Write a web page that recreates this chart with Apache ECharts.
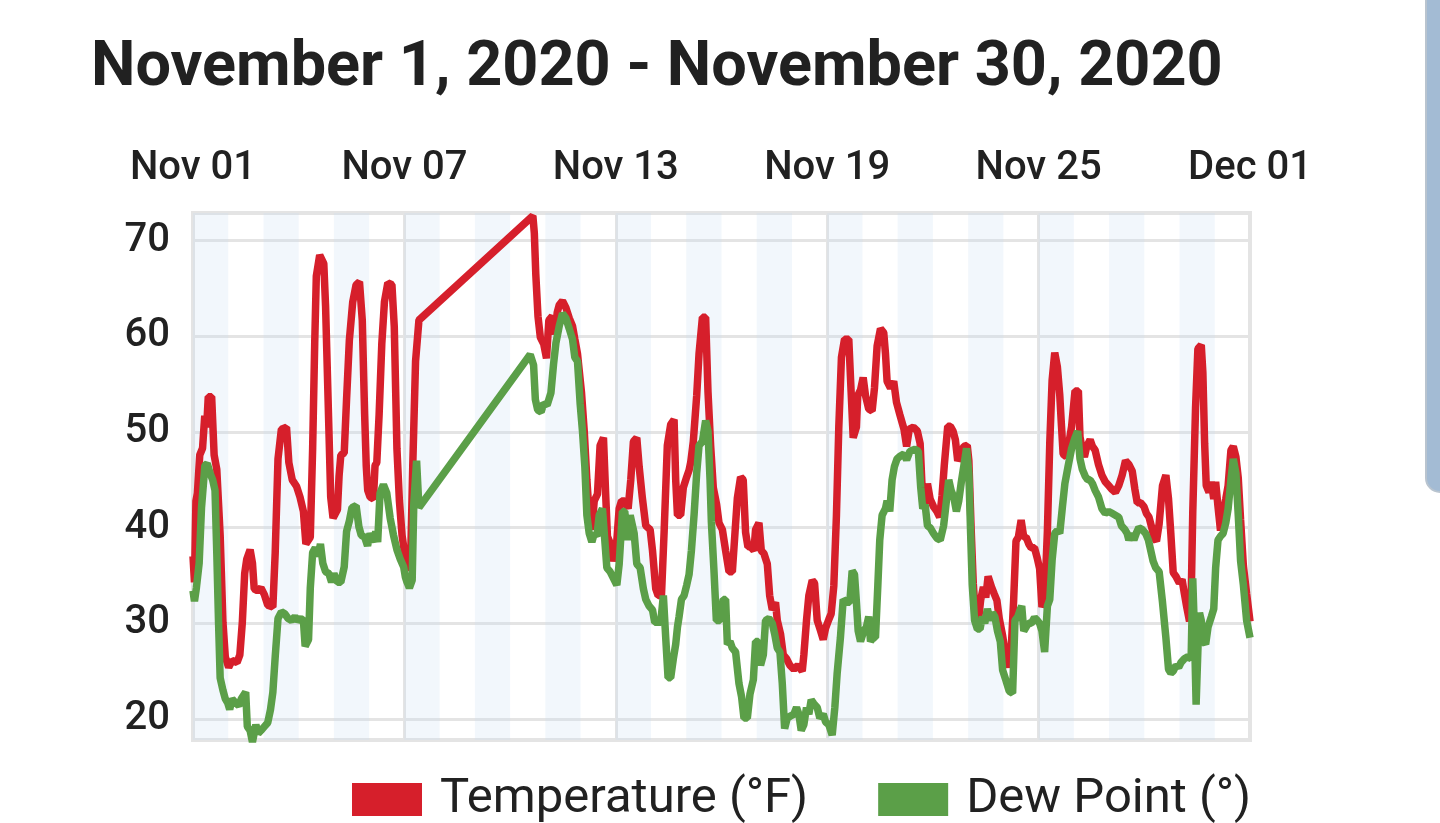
<!DOCTYPE html>
<html>
<head>
<meta charset="utf-8">
<title>November 2020 temperature and dew point</title>
<script src="https://cdn.jsdelivr.net/npm/echarts@6/dist/echarts.min.js"></script>
<style>
  html, body { margin: 0; padding: 0; background: #fff; }
  #chart { width: 1440px; height: 823px; }
</style>
</head>
<body>
<div id="chart"></div>
<script>
// hours since Nov 01 00:00
var tempHours = [0,1,2,3,4.6,6.5,8,9.3,10.4,12.7,14.4,16.2,18.5,20.4,22,24.3,26.6,30,31.9,33.6,35.2,36.6,38.9,40.5,41.7,44,46.3,48.6,50.9,54.4,56,57.9,60.2,63.7,65.3,67.6,70.6,72.9,75.2,76.9,79.9,81.5,82.9,84,86.3,89.1,90.3,92.6,93.8,95.4,98.4,99.5,100.7,103,104.6,106.5,108.8,111.1,113.4,115.3,116.9,118,119,120.6,122.9,124,125.2,126.8,128.6,130.4,132.7,135.5,137.1,138.9,140.6,142.4,144.7,147,148.1,149.7,151.6,153.9,
  231.5,232.5,233.5,235,236.6,238.9,240.8,242.4,244.7,246.6,248.1,249.5,251.7,254,256.3,258.5,260.1,261.9,263,264.6,266.5,268.3,269.9,271.7,273.3,275.5,277.3,279.6,281.2,282.3,284.1,286.4,288.2,290.3,291.9,294.1,296.4,298.2,300,302.3,303.9,306.1,308.4,311.4,313,315.2,316.8,319.1,320.9,323.1,325.4,327.7,328.8,330,332.2,334,336.3,337.9,339,340.8,343.1,344.7,347,349.2,350.8,352.6,354.4,356.7,358.3,360.6,362.8,365.1,367.4,369.2,370.8,373,374.8,376.4,378,379.8,382.1,383.2,385.5,387.1,388.9,391.2,392.8,394.6,396.8,398,400.2,402.1,404.3,406.6,409.3,412,415,416.1,417.9,419.5,421.8,423.4,425.2,427.5,429.3,430.9,433.1,434.7,436.5,438.3,439.9,441.7,443.8,446.7,448.3,449.7,451.9,452.8,454.7,456.5,458.1,460.3,462.6,464.2,466,468.3,470.5,471.7,472.8,475.1,477.3,479.2,481.5,484.3,486.1,487.9,490.7,493.4,495.3,497.1,498.7,500.3,502.1,504.4,506.7,508.6,510.2,511.8,514.1,515.9,517.7,519.3,520.9,523.2,525.1,527.4,528.5,530.1,531.5,533.1,534.7,536.5,538.4,540,541.6,543.9,545.7,547.6,549.2,551.5,553.8,555.4,557.2,559,560.6,562.2,564.1,565.9,567.5,569.3,570.9,573.2,575.1,576.7,578.3,580.1,582,583.6,585.2,587,588.8,590.4,591.6,592.7,595,596.6,598.5,600.8,603.1,604.2,605.8,607.2,608.8,611.1,612.7,614.5,616.8,619.1,621.4,623.7,626,628.3,630.6,632.9,635.2,637.5,639.8,641.6,643.2,645.5,647.8,649.4,651.2,653.1,654.7,656.3,658.1,660.4,662.7,664.5,666.1,667.7,669.6,671.9,673.7,675.3,676.9,678.8,679.9,681,682.9,684.5,686.8,687.9,689.1,690.2,692.1,693.7,695.3,696.6,698.2,699.9,701.7,703.5,705.1,707,708.6,710.4,712,713.6,715.5,717.7,720];
var tempF = [37,34.3,42.8,43.6,47.6,48.3,51.7,50.5,53.7,53.7,47.6,46.1,39.2,30.1,26.5,25.4,26.1,25.9,26.7,30.1,35.2,36.7,37.7,36.3,33.6,33.4,33.7,33,31.9,31.7,37.4,47.2,50.3,50.5,46.8,45,44.3,43.2,41.7,38.3,39,48.3,59.2,66.3,68.5,67.6,63.2,50.1,43.2,41,41.9,45.4,47.6,47.8,53.4,59.6,63.6,65.4,65.7,61.7,51.9,46.5,43.9,43.2,43,46.5,46.8,51.9,59.2,63.6,65.6,65.4,61,48.3,42.8,39.2,36.7,35.9,35.6,46.5,57.4,61.7,
  72.6,70.8,66.5,62.1,59.9,59.2,57.7,61.7,62.1,60.2,62.5,63.3,63.7,63,61.9,61.1,59.7,58.2,58,54.2,50.1,45,41.3,39.8,42.8,43.5,48.6,49.4,43.1,39.1,38.4,36.5,37.6,42,42.8,42.8,42,45,49,49.4,46.4,43.1,40.2,39.8,37.6,33.6,32.9,32.9,39.5,48.6,50.8,51.3,45,41.3,41.3,44.2,45.3,46,46.8,49,53.8,58.2,62,62,54.2,48.6,44.2,42.4,40.5,39.8,37.6,35.4,35.4,39.5,43.1,45.3,45,39.5,38,38,37.6,39.8,40.5,37.6,37.3,36.2,32.9,31.4,32.2,30.3,28.9,26.7,26.3,25.6,25.2,25.6,25,26.7,30.3,32.9,34.5,34.2,30.3,29.2,28.3,29.5,30.4,31,33.9,41.3,50.5,57.8,59.7,59.7,54.2,49.4,50.5,53.8,54.4,55.7,53.8,52.4,52.2,54.6,59,60.8,60.4,58.2,55.3,54.6,55.3,53.1,51.8,50.3,48.5,50.3,50.5,50.1,48.8,42.6,42.6,44.6,43,42.2,41.7,41.1,43.3,46.6,50.6,50.6,50.1,49.2,47,47.7,48.5,48.6,47,39.7,34.2,30.5,29.8,32.4,33.8,32.7,34.9,33.8,33.1,32.4,30.5,28.7,26.5,25.4,26.9,32.4,38.6,39,40.8,39,39,38.3,37.9,37.9,36.8,35.7,31.7,32.4,39.7,48.8,55.4,58.3,56.8,53.9,50.6,47.7,47.4,48.8,50.6,54.3,54.3,49.5,48.1,47.4,48.5,49.2,48.5,48.1,46.6,45.5,44.8,44.4,44,43.7,44.4,45.5,47,46.6,45.9,44,42.6,42.6,42.2,41.5,41.1,40,38.9,38.6,40.4,44.4,45.5,43,39.3,35.3,34.9,34.2,34.6,33.1,31.7,30.2,32.4,41.5,52.5,58.7,59.1,56.2,48.8,44.4,43.7,44.8,43,44.8,42.2,39.7,41.5,43,44.4,48.1,48.5,47.4,45.2,40.8,36,33.1,30.2];

var dewHours = [0,1,2.3,4.2,5.8,8.1,9.7,11.6,13.4,15,16.2,17.4,18.5,20.4,22,23.6,25,26.6,28.9,31.2,32.9,35.9,37,38.9,40.5,42.8,44.4,46.3,48.6,50.9,52.8,54.4,56,57.9,60.2,62.5,64.8,67.1,69.4,71.3,73.4,75.2,76.4,78.7,79.9,81.5,83.3,85.2,86.8,88.4,90.3,92.6,94.4,96,98.4,100.7,103,104.6,106.5,108.3,111.1,113,114.6,117,118.9,120.6,122.9,124.5,125.8,127.4,129.7,132,134.3,136.6,138.9,141.2,143.5,144.7,145.8,147.4,149.3,150.4,152.3,153.9,
  229.7,232,233.2,234.8,237.1,238.9,241.2,243.8,245.6,247.2,249.5,251.7,254,256.3,258.5,260.1,261.9,263.7,265.3,266.9,268.3,269.9,271.7,273.3,275.1,276.7,278.9,280.5,281.9,284.1,286.4,288.7,290.3,292.5,294.1,295.9,297.8,300.5,302.3,304.6,306.8,308.4,310.7,313,314.5,316.8,318.6,320.4,322,323.6,325.4,327.2,328.8,330,331.1,332.7,334.5,336.3,337.9,339.5,341.3,343.1,344.7,347,349.2,350.8,352.2,353.1,354.9,356.5,359,361.2,362.8,364,365.8,367.4,369.6,371.9,373.7,375.3,377.6,379.4,381.7,383.2,385.1,386.6,388.5,390,392.3,394.6,396.2,398,399.8,401.4,403,404.8,407,409.3,411.1,412.7,414.3,416.1,417.9,419.5,421.1,422.9,425.2,427,429.3,430.9,433.1,435.4,437.2,438.8,441,442.9,445.1,447.4,449,450.6,451.9,453.1,454.7,456.9,458.7,460.3,461.5,463.3,464.9,466.5,467.8,469.4,471.7,472.8,474.6,476.2,477.8,479.6,481.9,484.2,486.1,488.4,491.8,494.1,495.7,497.1,498.7,500.3,502.1,504.4,506.7,509,511.3,513.2,514.8,516.4,518.2,520,521.6,523.2,525.1,526.9,528.5,529.7,530.8,532.4,534.3,536.1,537.7,539.3,541.1,543,544.6,546.2,548,549.9,551.5,553.8,556,558.3,559.9,561.8,563.6,564.5,565.9,567.5,569.1,571,573.2,575.1,576.7,578.3,580.1,582,583.6,585.2,587,588.8,590.4,592.1,593.9,596.2,598.5,600.8,602.6,604.2,605.8,607.7,609.5,611.1,612.7,614.5,616.8,619.1,621.4,623.7,626,628.3,630.6,632.4,634.7,636.3,637.5,639.3,640.9,642.5,644.3,646.6,648.9,650.8,652.4,654,655.8,658.1,660.4,662.7,664.5,666.1,667.7,669.6,671.4,673,675.3,677.6,679.9,681,682.2,683.3,684.7,685.6,686.8,688.4,689.8,691.4,693.7,695.3,696.6,698.2,699.9,701.7,703.5,705.1,707,708.6,710.4,712,713.6,715.5,717.7,720];
var dewPoint = [33.4,32.3,33.7,36.3,42.1,46.5,46.7,45.7,45,43.9,37.4,30.1,24.3,23,22.1,21.7,21,22.1,21.7,21.4,22.1,22.8,19.2,18.8,17.6,19.4,18.5,18.8,19.2,19.6,21,22.8,26.5,30.5,31.2,31,30.5,30.3,30.7,30.3,30.5,30.3,27.6,28.3,33.7,37.4,37.9,37,38.3,36.3,35.4,35.2,34.3,35.2,34.3,34.3,35.9,39.6,40.7,42.1,42.3,40.1,39.2,39,38.1,39.4,38.5,39.6,38.5,43.6,44.5,43.6,41,39.2,37.7,36.7,35.9,34.8,34.3,33.7,34.5,42.5,47,42.1,
  58.1,57,53.4,52.3,52.1,53,52.8,54.1,57.1,59.3,61.1,62.4,61.9,60.8,59.7,57.8,57.4,53,50.1,46.4,41.3,39.4,38.5,39.4,39.1,41.3,42,38.7,35.8,35.4,34.7,34,36.2,41.7,41.7,38.7,41.3,39.4,36.2,35.8,33.6,32.5,31.8,31.4,30.1,30.1,30.1,32.9,28.5,24.3,24.3,26.3,27.8,29.6,30.7,32.5,32.9,34,35.1,37.6,41.3,45.7,48.6,49,51.2,50.1,45,40.6,35.4,30.3,30.3,32.5,32.5,27.8,28.1,27.4,27,23.7,22.3,20.1,20.1,22.6,24.1,28.1,28.1,25.6,26.7,30.3,30.5,30,28.9,27.4,27,23.7,19,20.1,20.3,20.5,21.2,20.5,18.8,19.4,21.2,20.5,22,21.6,21.2,20.1,20.5,19.7,19.4,18.3,21.2,24.8,28.5,32.5,32.2,32.2,35.5,35.1,32.2,29.2,28.1,29.2,29.6,30.7,28.1,28.5,28.5,34,38.7,41.3,42,42.8,41.7,45,46.4,47.2,47.5,47.7,47.1,48,48.2,48,44.2,42,42.4,40.2,40,39.4,38.9,38.7,40.2,42.8,45,43.9,43.2,41.7,42.8,44.6,46.5,48.3,45.7,39.4,34,30.3,29.4,29.4,30.7,30,31.5,30.3,31.1,30.7,29.2,28.1,25.1,24,22.9,22.7,30.3,30.7,31.5,31.8,29.2,29.6,30,30,30.6,30.3,30,29.2,27,31.8,32.5,36.6,39.4,39.7,39.4,42,44.6,46.5,48.3,49.4,50.1,47.2,46.1,45.4,45,45,44.6,43.9,43.2,42,41.5,41.7,41.5,41.3,41.1,40.2,39.8,39.4,38.7,39.4,38.7,39.4,40,39.8,39.4,38.7,37.6,36.5,35.8,35.4,32.2,28.5,25.2,24.8,25,25.6,25.4,25.9,26.3,26.5,26.3,34.7,28.9,21.5,28.1,31.1,30.3,28.1,27.8,29.6,30.7,31.5,35.8,38.7,39.1,39.4,40.5,42,45,47.2,45.7,41.3,36.5,34,30.3,28.5];

var xTickLabels = ['Nov 01', 'Nov 07', 'Nov 13', 'Nov 19', 'Nov 25', 'Dec 01'];
var shadedDays = [0, 2, 4, 6, 8, 10, 12, 14, 16, 18, 20, 22, 24, 26, 28];   // Nov 1, 3, 5 ... shaded

var chart = echarts.init(document.getElementById('chart'));

var bands = shadedDays.map(function (d) {
    return [{ xAxis: d * 24 }, { xAxis: (d + 1) * 24 }];
});

function pairs(xs, ys) {
    return xs.map(function (x, i) { return [x, ys[i]]; });
}

var font = 'Roboto, "Noto Sans", sans-serif';

var option = {
    animation: false,
    textStyle: { fontFamily: font },
    title: {
        text: 'November 1, 2020 - November 30, 2020',
        left: 86,
        top: 33,
        textStyle: { fontSize: 63, fontWeight: 'bold', color: '#212121', fontFamily: font }
    },
    legend: {
        left: 347,
        top: 770,
        icon: 'rect',
        itemWidth: 70,
        itemHeight: 33,
        itemGap: 70,
        textStyle: { fontSize: 49, color: '#212121', fontFamily: font, padding: [0, 0, 0, 13] },
        data: ['Temperature (°F)', 'Dew Point (°)']
    },
    grid: {
        left: 193,
        right: 190,
        top: 213,
        bottom: 83,
        show: true,
        borderColor: '#e4e4e4',
        borderWidth: 4,
        backgroundColor: 'transparent'
    },
    xAxis: {
        type: 'value',
        position: 'top',
        min: 0,
        max: 720,
        interval: 144,
        axisLine: { show: false },
        axisTick: { show: false },
        splitLine: { show: true, lineStyle: { color: '#e4e4e4', width: 3 } },
        axisLabel: {
            fontSize: 40,
            fontWeight: 500,
            color: '#212121',
            margin: 24,
            showMinLabel: true,
            showMaxLabel: true,
            formatter: function (v) { return xTickLabels[Math.round(v / 144)]; }
        }
    },
    yAxis: {
        type: 'value',
        min: 17.8,
        max: 72.9,
        splitNumber: 5,
        axisLine: { show: false },
        axisTick: { show: false },
        splitLine: { show: true, lineStyle: { color: '#e4e4e4', width: 3 } },
        axisLabel: {
            fontSize: 40,
            fontWeight: 500,
            color: '#212121',
            margin: 23,
            showMinLabel: false,
            showMaxLabel: false
        }
    },
    series: [
        {
            name: 'Temperature (°F)',
            type: 'line',
            showSymbol: false,
            data: pairs(tempHours, tempF),
            itemStyle: { color: '#d61f2b' },
            lineStyle: { color: '#d61f2b', width: 7.5 },
            markArea: {
                silent: true,
                itemStyle: { color: 'rgba(196,218,240,0.22)' },
                data: bands
            }
        },
        {
            name: 'Dew Point (°)',
            type: 'line',
            showSymbol: false,
            data: pairs(dewHours, dewPoint),
            itemStyle: { color: '#5b9f48' },
            lineStyle: { color: '#5b9f48', width: 7.5 }
        }
    ],
    graphic: [
        {
            type: 'rect',
            shape: { x: 1426, y: -20, width: 40, height: 512, r: [0, 0, 0, 14] },
            style: { fill: '#a3bbd4', stroke: '#b9c4cf', lineWidth: 2 }
        }
    ]
};

chart.setOption(option);
</script>
</body>
</html>
